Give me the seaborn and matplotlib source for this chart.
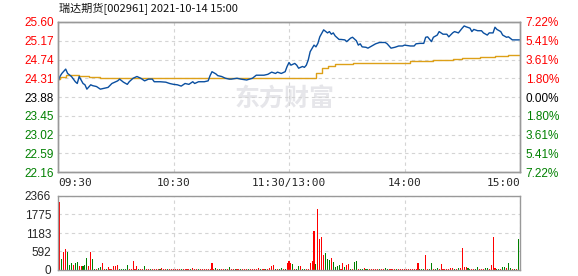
import matplotlib
matplotlib.use("Agg")
import matplotlib.pyplot as plt
import seaborn as sns
import pandas as pd
import numpy as np

# ---------------- data ----------------
title = "瑞达期货[002961] 2021-10-14 15:00"
prev_close = 23.88
price_ticks = [25.60, 25.17, 24.74, 24.31, 23.88, 23.45, 23.02, 22.59, 22.16]
pct_labels = ["7.22%", "5.41%", "3.61%", "1.80%", "0.00%", "1.80%", "3.61%", "5.41%", "7.22%"]
time_ticks = [0, 60, 120, 180, 240]
time_labels = ["09:30", "10:30", "11:30/13:00", "14:00", "15:00"]
vol_ticks = [0, 592, 1183, 1775, 2366]

price_min = [0, 1, 2, 4, 5, 7, 8, 9, 10, 11, 13, 14, 15, 17, 18, 20, 22, 24, 26, 28,
             31, 32, 34, 36, 37, 39, 41, 43, 45, 47, 49, 50, 53, 56, 58, 60, 62, 64, 66, 68,
             70, 71, 73, 76, 78, 79, 80, 82, 83, 85, 87, 89, 90, 93, 95, 98, 101, 103, 107, 109,
             111, 113, 114, 116, 118, 119, 120, 121, 123, 124, 125, 127, 128, 129, 130, 131, 133, 134, 135, 136,
             137, 138, 140, 141, 142, 143, 144, 146, 147, 149, 150, 152, 153, 155, 156, 157, 158, 160, 161, 163,
             165, 167, 170, 171, 173, 175, 177, 179, 180, 183, 185, 186, 188, 190, 191, 192, 194, 195, 197, 198,
             200, 202, 203, 205, 206, 208, 210, 211, 212, 214, 215, 216, 218, 220, 221, 223, 224, 226, 227, 228,
             230, 231, 233, 234, 236, 237, 239, 240]
price_val = [24.23, 24.35, 24.42, 24.52, 24.42, 24.35, 24.29, 24.23, 24.19, 24.35, 24.19, 24.16, 24.06, 24.16, 24.14, 24.12, 24.06, 24.08, 24.10, 24.19,
             24.25, 24.29, 24.22, 24.17, 24.23, 24.31, 24.35, 24.31, 24.25, 24.29, 24.29, 24.23, 24.23, 24.22, 24.19, 24.17, 24.16, 24.13, 24.19, 24.17,
             24.23, 24.19, 24.23, 24.23, 24.25, 24.37, 24.46, 24.41, 24.37, 24.35, 24.31, 24.29, 24.29, 24.31, 24.29, 24.27, 24.31, 24.38, 24.38, 24.40,
             24.45, 24.42, 24.45, 24.42, 24.46, 24.58, 24.67, 24.61, 24.65, 24.61, 24.54, 24.58, 24.56, 24.61, 24.73, 24.92, 25.07, 25.03, 25.11, 25.26,
             25.34, 25.42, 25.35, 25.38, 25.32, 25.35, 25.28, 25.20, 25.20, 25.19, 25.15, 25.23, 25.25, 25.17, 25.07, 25.10, 25.03, 25.02, 25.00, 25.05,
             25.10, 25.13, 25.13, 25.10, 25.00, 25.02, 25.05, 25.05, 25.07, 25.05, 25.05, 25.10, 25.11, 25.11, 25.25, 25.26, 25.15, 25.25, 25.30, 25.38,
             25.32, 25.32, 25.26, 25.35, 25.38, 25.35, 25.46, 25.51, 25.49, 25.46, 25.38, 25.43, 25.40, 25.40, 25.35, 25.30, 25.35, 25.35, 25.48, 25.43,
             25.38, 25.30, 25.25, 25.26, 25.19, 25.19, 25.19, 25.19]

avg_min = [0, 1, 4, 7, 11, 16, 22, 60, 100, 131, 134, 137, 140, 144, 153, 180, 183, 195, 205, 210, 219, 227, 234, 240]
avg_val = [24.29, 24.35, 24.38, 24.38, 24.37, 24.35, 24.32, 24.31, 24.31, 24.32, 24.42, 24.54, 24.59, 24.64, 24.66, 24.67, 24.70, 24.73, 24.75, 24.77, 24.79, 24.82, 24.84, 24.84]

volume = [2185, 360, 572, 678, 572, 170, 222, 170, 222, 254,
          117, 117, 117, 150, 382, 117, 572, 360, 40, 40,
          60, 80, 222, 40, 40, 80, 40, 40, 117, 117,
          150, 40, 40, 40, 40, 150, 40, 40, 290, 40,
          117, 40, 40, 40, 117, 40, 40, 40, 30, 30,
          30, 30, 40, 60, 30, 30, 30, 30, 30, 30,
          30, 30, 30, 30, 30, 30, 30, 30, 30, 60,
          30, 30, 30, 30, 30, 30, 30, 30, 30, 233,
          30, 60, 30, 30, 30, 30, 30, 30, 90, 30,
          30, 30, 30, 30, 30, 30, 30, 30, 30, 30,
          30, 30, 30, 60, 30, 30, 30, 30, 30, 60,
          117, 150, 30, 30, 40, 60, 30, 40, 222, 297,
          222, 191, 40, 40, 117, 138, 40, 40, 40, 40,
          233, 297, 1251, 201, 1951, 997, 1061, 467, 551, 360,
          329, 392, 265, 85, 138, 170, 40, 233, 85, 170,
          201, 40, 40, 265, 297, 40, 40, 40, 60, 40,
          40, 40, 40, 40, 40, 40, 40, 40, 40, 60,
          40, 40, 40, 40, 40, 40, 40, 40, 40, 40,
          40, 40, 40, 40, 40, 40, 212, 40, 40, 40,
          467, 40, 40, 233, 40, 40, 60, 40, 201, 40,
          40, 40, 40, 60, 60, 40, 40, 60, 60, 690,
          90, 100, 60, 40, 40, 40, 40, 100, 40, 40,
          40, 60, 60, 40, 170, 1040, 60, 40, 30, 40,
          100, 100, 60, 233, 60, 40, 30, 30, 997]
vol_dir = ("RGRRGGGRGG" "RRGGGRRGGR" "GGRRGRRRRR" "RGGGGGRRRR" "RGRRGRRGRR"
           "RRGRRRGRRR" "RRRGRRRRGR" "RRGRRRRRRR" "RGRGRRGRGR" "RGRRGRRRGR"
           "RRRRGRRGRR" "RRGRGGRGRR" "RGRGGRGGRR" "RRRGRRRRGG" "GRGGGGRRGR"
           "RGRGGRGGRG" "GRRRRRGRRG" "GRRRRGRRRR" "RRRRRRRGGG" "RRGGRGGRRR"
           "RRRRRGRGRR" "RRGGRRGGRR" "RGGRRRRGGR" "GGRGGRGRG")

# ---------------- style ----------------
sns.set_theme(style="white")
plt.rcParams['font.family'] = ['Liberation Sans', 'DejaVu Sans']

RED = "#FF0000"
GREEN = "#008000"
BLUE = "#0A4FA0"
GOLD = "#DDA018"
SPINE = "#999999"
GRID = "#D4D4D4"

W, H = 578, 276
fig = plt.figure(figsize=(W / 100, H / 100), dpi=100)
ax = fig.add_axes([58 / W, 1 - 172 / H, 462 / W, 150 / H])
axv = fig.add_axes([58 / W, 1 - 270 / H, 462 / W, 74 / H])

price_df = pd.DataFrame({"minute": price_min, "price": price_val})
avg_df = pd.DataFrame({"minute": avg_min, "price": avg_val})
sns.lineplot(data=avg_df, x="minute", y="price", ax=ax, color=GOLD, lw=1.0, drawstyle="steps-post")
sns.lineplot(data=price_df, x="minute", y="price", ax=ax, color=BLUE, lw=1.0)

ax.set_xlim(0, 240)
ax.set_ylim(price_ticks[-1], price_ticks[0])
ax.set_yticks(price_ticks)
ax.set_yticklabels([f"{v:.2f}" for v in price_ticks])
for lbl, v in zip(ax.get_yticklabels(), price_ticks):
    lbl.set_color(RED if v > prev_close + 1e-6 else (GREEN if v < prev_close - 1e-6 else "black"))
ax.set_xticks(time_ticks)
ax.set_xticklabels(time_labels, family=['DejaVu Sans Mono'])
xl = ax.get_xticklabels()
xl[0].set_ha("left")
xl[-1].set_ha("right")
ax.tick_params(axis="both", length=0, labelsize=8.5)
ax.tick_params(axis="y", pad=3)
ax.tick_params(axis="x", pad=4, labelsize=8)
ax.set_xlabel("")
ax.set_ylabel("")

# right percentage axis
ax2 = ax.twinx()
ax2.set_ylim(ax.get_ylim())
ax2.set_yticks(price_ticks)
ax2.set_yticklabels(pct_labels)
for lbl, v in zip(ax2.get_yticklabels(), price_ticks):
    lbl.set_color(RED if v > prev_close + 1e-6 else (GREEN if v < prev_close - 1e-6 else "black"))
ax2.tick_params(axis="y", length=0, labelsize=8.5, pad=4)
ax2.grid(False)

for a in (ax, axv):
    a.grid(True, color=GRID, linestyle=(0, (3, 3)), linewidth=0.8)
    a.set_axisbelow(True)
for a in (ax, ax2, axv):
    for s in a.spines.values():
        s.set_color(SPINE)
        s.set_linewidth(1.0)

# watermark
ax.text(0.49, 0.49, "东方财富", transform=ax.transAxes, ha="center", va="center",
        fontsize=18, color="#E6E6EA", fontweight="bold", style="italic",
        family=['Noto Sans CJK SC', 'DejaVu Sans'], zorder=0)

# volume
vol_df = pd.DataFrame({"minute": list(range(1, len(volume) + 1)), "vol": volume,
                       "dir": list(vol_dir[:len(volume)])})
sns.barplot(data=vol_df, x="minute", y="vol", hue="dir", palette={"R": RED, "G": GREEN},
            native_scale=True, dodge=False, errorbar=None, width=0.55, legend=False,
            ax=axv, linewidth=0, saturation=1)
for p in axv.patches:
    p.set_antialiased(False)
axv.set_xlim(0, 240)
axv.set_ylim(0, 2366)
axv.set_xticks(time_ticks)
axv.set_xticklabels([])
axv.set_yticks(vol_ticks)
axv.set_yticklabels([str(v) for v in vol_ticks])
axv.tick_params(axis="both", length=0, labelsize=8.5)
axv.tick_params(axis="y", pad=5)
axv.set_xlabel("")
axv.set_ylabel("")

fig.text(59 / W, 1 - 9 / H, title, ha="left", va="center", fontsize=8,
         family=['Noto Sans CJK SC', 'DejaVu Sans'], color="#111111")

fig.savefig("out.png", dpi=100)
